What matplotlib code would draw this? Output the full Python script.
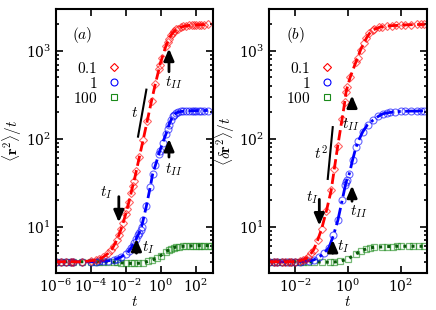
import numpy as np
import matplotlib
matplotlib.use('Agg')
import matplotlib.pyplot as plt
from matplotlib.lines import Line2D
from matplotlib.ticker import LogLocator, NullLocator, NullFormatter

plt.rcParams['mathtext.fontset'] = 'cm'
plt.rcParams['font.family'] = 'serif'
plt.rcParams['font.size'] = 10

# ---- data ----
# panel (a): <r^2>/t
t_a_red = [1e-6, 2e-6, 4e-6, 7e-6, 1e-5, 3e-5, 1e-4, 2e-4, 3e-4, 5e-4, 1e-3, 1.5e-3,
           2e-3, 3e-3, 4e-3, 5.5e-3, 7e-3, 1e-2, 1.2e-2, 1.5e-2, 2e-2, 2.5e-2, 3e-2,
           4e-2, 6e-2, 0.1, 0.17, 0.3, 0.5, 0.8, 0.9, 1.2, 2, 2.5, 3, 4, 5, 6, 8, 10,
           15, 20, 30, 40, 60, 80, 100, 150, 200, 300, 500]
y_a_red = [4.0, 4.0, 4.0, 4.0, 4.0, 4.0, 4.1, 4.2, 4.3, 4.5, 5.0, 5.5, 6.0, 7.0, 8.0,
           9.5, 11, 14, 16, 19, 24, 29, 33, 43, 62, 98, 160, 270, 425, 620, 690, 830,
           1140, 1260, 1370, 1520, 1610, 1670, 1760, 1800, 1870, 1900, 1935, 1950,
           1965, 1975, 1980, 1985, 1990, 1995, 2000]

t_a_blue = [1e-6, 2e-6, 4e-6, 7e-6, 1e-5, 3e-5, 1e-4, 2e-4, 3e-4, 5e-4, 1e-3, 2e-3,
            3e-3, 5e-3, 1e-2, 1.5e-2, 2e-2, 2.5e-2, 3e-2, 4e-2, 5e-2, 6e-2, 7e-2, 8e-2,
            0.1, 0.15, 0.25, 0.35, 0.5, 0.8, 0.9, 1.3, 2, 2.5, 3, 4, 5, 6, 8, 10, 15,
            20, 30, 40, 60, 80, 100, 150, 200, 300, 500]
y_a_blue = [4.0, 4.0, 4.0, 4.0, 4.0, 4.0, 4.0, 4.0, 4.05, 4.05, 4.1, 4.2, 4.3, 4.5,
            4.9, 5.3, 5.7, 6.1, 6.6, 7.3, 8.0, 8.6, 9.2, 10, 12, 17, 28, 40, 50, 68,
            73, 90, 113, 128, 145, 165, 180, 188, 198, 201, 205, 206, 208, 208, 209,
            209, 209, 210, 210, 210, 210]

t_a_green = [1e-6, 2e-6, 4e-6, 7e-6, 1e-5, 3e-5, 1e-4, 2e-4, 3e-4, 5e-4, 1e-3, 2e-3,
             3e-3, 5e-3, 1e-2, 2e-2, 3e-2, 5e-2, 0.1, 0.2, 0.3, 0.6, 1, 2, 3, 4, 6, 8,
             12, 20, 30, 50, 70, 100, 150, 200, 300, 500, 800]
y_a_green = [4.0, 4.0, 4.0, 4.0, 4.0, 4.0, 4.0, 4.0, 4.0, 4.0, 3.98, 3.95, 3.92, 3.9,
             3.85, 3.83, 3.82, 3.84, 3.9, 4.05, 4.15, 4.4, 4.7, 5.2, 5.45, 5.6, 5.8,
             5.9, 5.95, 6.0, 6.0, 6.05, 6.05, 6.05, 6.1, 6.1, 6.1, 6.1, 6.1]

# panel (b): <dr^2>/t
t_b_red = [1e-3, 1.5e-3, 2e-3, 3e-3, 4e-3, 5.5e-3, 7e-3, 1e-2, 1.5e-2, 2e-2, 2.5e-2,
           3e-2, 4e-2, 5e-2, 7e-2, 0.1, 0.15, 0.23, 0.3, 0.41, 0.6, 0.75, 0.84, 0.95,
           1.2, 2, 2.3, 3, 4, 5, 6.5, 8.7, 10, 15, 20, 30, 45, 66, 100, 150, 250, 400,
           600, 800]
y_b_red = [4.0, 4.0, 4.0, 4.0, 4.0, 4.0, 4.0, 4.0, 4.1, 4.2, 4.35, 4.5, 5.0, 5.5, 7.0,
           9.5, 15, 26, 45, 84, 170, 260, 340, 390, 500, 750, 830, 1030, 1230, 1400,
           1580, 1720, 1760, 1850, 1890, 1920, 1940, 1950, 1965, 1980, 1990, 2000,
           2000, 2000]

t_b_blue = [1e-3, 1.5e-3, 2e-3, 3e-3, 5e-3, 7e-3, 1e-2, 1.5e-2, 2e-2, 3.4e-2, 5e-2,
            8e-2, 0.12, 0.19, 0.28, 0.41, 0.6, 0.8, 0.84, 0.9, 1.12, 1.5, 2, 2.5, 3.6,
            5.5, 8.7, 14, 21, 30, 40, 60, 100, 150, 250, 400, 600, 800]
y_b_blue = [4.0, 4.0, 4.0, 4.0, 4.0, 4.0, 4.0, 4.02, 4.05, 4.1, 4.2, 4.5, 5.0, 5.8,
            8.0, 11.8, 20, 30, 32, 34, 40, 58, 80, 95, 120, 145, 162, 180, 193, 197,
            200, 203, 205, 206, 207, 207, 208, 208]

t_b_green = [1e-3, 1.5e-3, 2e-3, 3e-3, 5e-3, 7e-3, 1e-2, 1.5e-2, 2e-2, 3e-2, 5e-2, 0.1,
             0.2, 0.3, 0.5, 1, 2, 3, 5, 7, 10, 20, 30, 50, 70, 100, 200, 300, 500, 800]
y_b_green = [4.0, 4.0, 4.0, 4.0, 4.0, 4.0, 4.0, 4.0, 4.0, 3.98, 3.98, 3.97, 3.95, 3.97,
             4.05, 4.3, 4.9, 5.3, 5.6, 5.75, 5.85, 5.9, 5.95, 5.95, 6.0, 6.0, 6.0, 6.0,
             6.0, 6.0]

labels = ['$0.1$', '$1$', '$100$']

RED = '#ff0000'
BLUE = '#0000ff'
GREEN = '#1a8a1a'

fig = plt.figure(figsize=(4.36, 3.10), dpi=100)
ax1 = fig.add_axes([0.1284, 0.1203, 0.3601, 0.8506])
ax2 = fig.add_axes([0.617, 0.1203, 0.3624, 0.8506])


def draw(ax, tr, yr, tb, yb, tg, yg, blue_ls):
    ax.plot(tg, yg, 's', ms=4.5, mfc='none', mec=GREEN, mew=0.9, alpha=0.6)
    ax.plot(tg, yg, ls=':', color='#0a5a0a', lw=2.2)
    ax.plot(tb, yb, 'o', ms=5, mfc='none', mec=BLUE, mew=0.8, alpha=0.6)
    ax.plot(tb, yb, ls=blue_ls, color=BLUE, lw=2)
    ax.plot(tr, yr, 'D', ms=3.8, mfc='none', mec=RED, mew=0.8, alpha=0.6)
    ax.plot(tr, yr, ls='--', color=RED, lw=2)
    ax.set_xscale('log')
    ax.set_yscale('log')
    ax.set_ylim(3, 3000)
    ax.xaxis.set_minor_locator(NullLocator())
    ax.yaxis.set_minor_locator(LogLocator(base=10, subs=np.arange(2, 10), numticks=20))
    ax.yaxis.set_minor_formatter(NullFormatter())
    ax.tick_params(which='both', direction='in', top=True, right=True, width=1.2)
    ax.tick_params(which='major', length=5, labelsize=10)
    ax.tick_params(which='minor', length=2.5)
    for s in ax.spines.values():
        s.set_linewidth(1.5)
    ax.set_xlabel('$t$', fontsize=11, labelpad=0)
    h = [Line2D([], [], ls='none', marker='D', ms=3.8, mfc='none', mec=RED, mew=0.8),
         Line2D([], [], ls='none', marker='o', ms=5, mfc='none', mec=BLUE, mew=0.8),
         Line2D([], [], ls='none', marker='s', ms=4.5, mfc='none', mec=GREEN, mew=0.8)]
    ax.legend(h, labels, loc='upper left', bbox_to_anchor=(0.04, 0.845), frameon=False,
              markerfirst=False, handlelength=1.0, handletextpad=0.6, labelspacing=0.0,
              fontsize=11, numpoints=1, borderpad=0.2)


def arrow(ax, tail, tip):
    ax.annotate('', xy=tip, xytext=tail,
                arrowprops=dict(arrowstyle='-|>,head_length=0.7,head_width=0.3',
                                color='black', lw=2, shrinkA=0, shrinkB=0))


draw(ax1, t_a_red, y_a_red, t_a_blue, y_a_blue, t_a_green, y_a_green, '--')
ax1.set_xlim(1e-6, 1e3)
ax1.set_xticks([1e-6, 1e-4, 1e-2, 1, 1e2])
ax1.set_ylabel(r'$\langle\mathbf{r}^2\rangle/t$', fontsize=11, labelpad=1)
ax1.text(0.1, 0.9, '$(a)$', transform=ax1.transAxes, fontsize=11, va='center')
arrow(ax1, (3.0, 580), (3.0, 1065))
ax1.text(1.7, 440, '$t_{II}$', fontsize=11, va='center')
arrow(ax1, (3.0, 62), (3.0, 100))
ax1.text(1.7, 45, '$t_{II}$', fontsize=11, va='center')
arrow(ax1, (4e-3, 22), (4e-3, 11.2))
ax1.text(1.8e-3, 24.5, '$t_I$', fontsize=11, va='center', ha='right')
arrow(ax1, (0.041, 5.0), (0.041, 7.3))
ax1.text(0.09, 5.8, '$t_I$', fontsize=11, va='center')
ax1.plot([0.0505, 0.152], [106, 363], color='black', lw=1.5)
ax1.text(0.0327, 195, '$t$', fontsize=11, va='center', ha='center')

draw(ax2, t_b_red, y_b_red, t_b_blue, y_b_blue, t_b_green, y_b_green, '-.')
ax2.set_xlim(1e-3, 1e3)
ax2.set_xticks([1e-2, 1, 1e2])
ax2.set_ylabel(r'$\langle\delta\mathbf{r}^2\rangle/t$', fontsize=11, labelpad=1)
ax2.text(0.108, 0.9, '$(b)$', transform=ax2.transAxes, fontsize=11, va='center')
arrow(ax2, (1.42, 225), (1.42, 312))
ax2.text(1.3, 146, '$t_{II}$', fontsize=11, va='center', ha='center')
arrow(ax2, (1.42, 19.5), (1.42, 29.4))
ax2.text(2.5, 14.9, '$t_{II}$', fontsize=11, va='center', ha='center')
arrow(ax2, (0.0813, 20.5), (0.0813, 10.3))
ax2.text(0.043, 21.5, '$t_I$', fontsize=11, va='center', ha='center')
arrow(ax2, (0.263, 5.0), (0.263, 7.1))
ax2.text(0.675, 5.9, '$t_I$', fontsize=11, va='center', ha='center')
ax2.plot([0.17, 0.263], [35, 136], color='black', lw=1.5)
ax2.text(0.094, 68, '$t^2$', fontsize=11, va='center', ha='center')

fig.savefig('out.png', dpi=100)
